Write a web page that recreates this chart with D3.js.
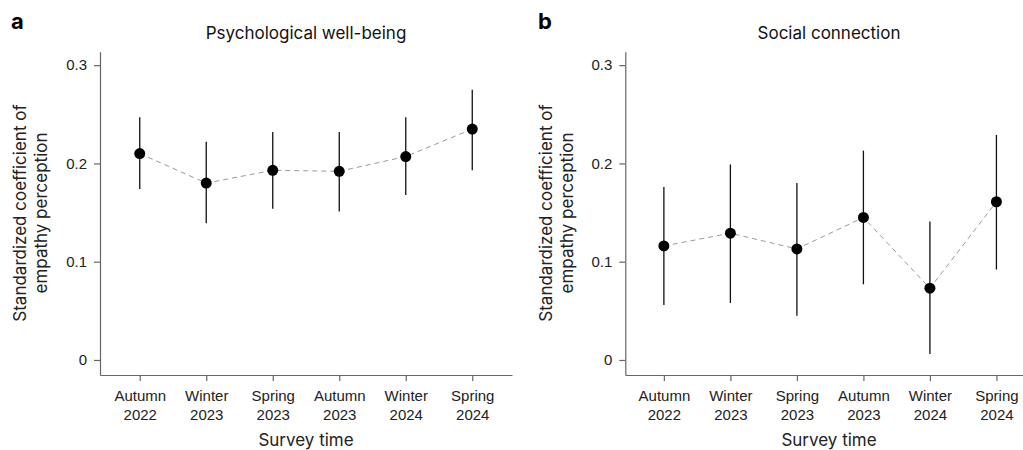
<!DOCTYPE html>
<html>
<head>
<meta charset="utf-8">
<script src="https://cdn.jsdelivr.net/npm/d3@7"></script>
<style>
  body { margin: 0; background: #fff; }
  svg { font-family: Inter, "Noto Sans", sans-serif; }
  .tick text { fill: #222; font-size: 15px; }
  .axis path, .axis line { stroke: #666; stroke-width: 1.2; }
</style>
</head>
<body>
<div id="chart"></div>
<script>
const surveys = ["Autumn 2022", "Winter 2023", "Spring 2023", "Autumn 2023", "Winter 2024", "Spring 2024"];
const yTicks = [0, 0.1, 0.2, 0.3];

const wellbeingEst   = [0.210, 0.180, 0.193, 0.192, 0.207, 0.235];
const wellbeingLower = [0.174, 0.139, 0.154, 0.151, 0.168, 0.193];
const wellbeingUpper = [0.247, 0.222, 0.232, 0.232, 0.247, 0.275];

const socialEst   = [0.116, 0.129, 0.113, 0.145, 0.073, 0.161];
const socialLower = [0.056, 0.058, 0.045, 0.077, 0.006, 0.092];
const socialUpper = [0.176, 0.199, 0.180, 0.213, 0.141, 0.229];

const W = 1023, H = 450;
const svg = d3.select("#chart").append("svg").attr("width", W).attr("height", H);

function panel(opts) {
  const g = svg.append("g");
  const x = d3.scalePoint().domain(surveys).range([opts.left, opts.right]).padding(opts.pad);
  const y = d3.scaleLinear().domain([-0.0153, 0.3137]).range([375, 51.7]);

  const rows = surveys.map((s, i) => ({ s, est: opts.est[i], lo: opts.lo[i], hi: opts.hi[i] }));

  // axes
  g.append("g").attr("class", "axis")
    .attr("transform", `translate(${opts.left},0)`)
    .call(d3.axisLeft(y).tickValues(yTicks).tickSize(6).tickSizeOuter(0).tickPadding(7)
      .tickFormat(d => d === 0 ? "0" : d3.format(".1f")(d)));

  const xa = g.append("g").attr("class", "axis")
    .attr("transform", "translate(0,375)")
    .call(d3.axisBottom(x).tickSize(6).tickSizeOuter(0).tickFormat(""));
  xa.selectAll(".tick").append("text")
    .attr("text-anchor", "middle")
    .selectAll("tspan").data(d => d.split(" ")).join("tspan")
    .attr("x", 0).attr("y", (d, i) => 26 + i * 18.5).text(d => d);

  // dashed connector
  g.append("path").datum(rows)
    .attr("fill", "none").attr("stroke", "#999").attr("stroke-width", 1)
    .attr("stroke-dasharray", "5,4")
    .attr("d", d3.line().x(d => x(d.s)).y(d => y(d.est)));

  // CIs
  g.selectAll(".ci").data(rows).join("line")
    .attr("x1", d => x(d.s)).attr("x2", d => x(d.s))
    .attr("y1", d => y(d.lo)).attr("y2", d => y(d.hi))
    .attr("stroke", "#111").attr("stroke-width", 1.3);

  g.selectAll(".pt").data(rows).join("circle")
    .attr("cx", d => x(d.s)).attr("cy", d => y(d.est)).attr("r", 5.5)
    .attr("fill", "#000");

  // labels
  g.append("text").attr("x", opts.titleX).attr("y", 39)
    .attr("text-anchor", "middle").attr("font-size", 17).attr("fill", "#111")
    .text(opts.title);

  g.append("text").attr("x", opts.letterX).attr("y", 29)
    .attr("font-size", 22).attr("font-weight", "bold").attr("fill", "#000")
    .text(opts.letter);

  g.append("text").attr("x", opts.titleX).attr("y", 446)
    .attr("text-anchor", "middle").attr("font-size", 17).attr("fill", "#222")
    .text("Survey time");

  const yl = g.append("text")
    .attr("transform", `translate(${opts.yLabX},213) rotate(-90)`)
    .attr("text-anchor", "middle").attr("font-size", 17).attr("fill", "#222");
  yl.append("tspan").attr("x", 0).attr("y", 0).text("Standardized coefficient of");
  yl.append("tspan").attr("x", 0).attr("y", 21).text("empathy perception");
}

panel({
  left: 100, right: 512, pad: 0.5975,
  est: wellbeingEst, lo: wellbeingLower, hi: wellbeingUpper,
  title: "Psychological well-being", titleX: 306, letter: "a", letterX: 11, yLabX: 26
});

panel({
  left: 625.3, right: 1035, pad: 0.58,
  est: socialEst, lo: socialLower, hi: socialUpper,
  title: "Social connection", titleX: 829, letter: "b", letterX: 538, yLabX: 552
});
</script>
</body>
</html>
